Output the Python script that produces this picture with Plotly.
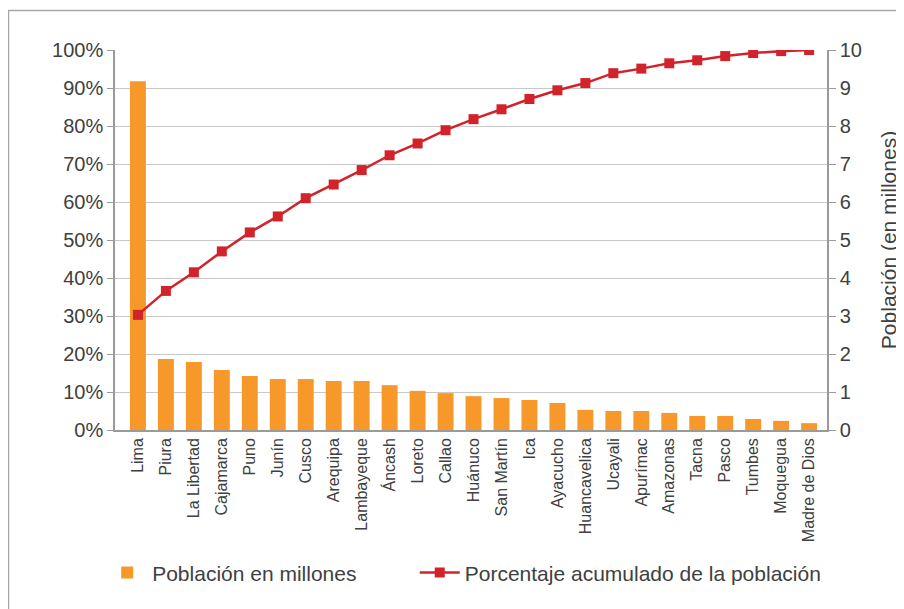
import plotly.graph_objects as go

regiones = ['Lima', 'Piura', 'La Libertad', 'Cajamarca', 'Puno', 'Junín', 'Cusco',
            'Arequipa', 'Lambayeque', 'Áncash', 'Loreto', 'Callao', 'Huánuco',
            'San Martín', 'Ica', 'Ayacucho', 'Huancavelica', 'Ucayali', 'Apurímac',
            'Amazonas', 'Tacna', 'Pasco', 'Tumbes', 'Moquegua', 'Madre de Dios']

poblacion = [9.18, 1.87, 1.79, 1.58, 1.42, 1.34, 1.34, 1.29, 1.29, 1.18, 1.03, 0.97,
             0.89, 0.84, 0.79, 0.71, 0.53, 0.50, 0.50, 0.45, 0.37, 0.37, 0.29, 0.24, 0.18]

acumulado = [0.303, 0.366, 0.415, 0.470, 0.520, 0.562, 0.610, 0.646, 0.684, 0.723,
             0.754, 0.789, 0.818, 0.844, 0.871, 0.894, 0.913, 0.939, 0.951, 0.965,
             0.973, 0.984, 0.992, 0.997, 1.000]

ORANGE = '#F7982A'
RED = '#D2232A'
TXT = '#404040'
AXIS = '#9A9A9A'
GRID = '#C8C8C8'
FONT = 'Liberation Sans, Arial, sans-serif'

fig = go.Figure()

# bars on the primary (right) axis, line on the overlaying (left) axis so it sits on top
fig.add_trace(go.Bar(
    x=regiones, y=poblacion, name='Población en millones',
    marker=dict(color=ORANGE, line=dict(width=0)), width=0.57,
    yaxis='y', legend='legend'
))
fig.add_trace(go.Scatter(
    x=regiones, y=acumulado, name='Porcentaje acumulado de la población',
    mode='lines+markers', line=dict(color=RED, width=2.5),
    marker=dict(symbol='square', size=10, color=RED),
    yaxis='y2', legend='legend2'
))

legend_style = dict(orientation='h', xanchor='left', y=-0.376, yanchor='middle',
                    font=dict(size=21, color=TXT), itemwidth=40)

fig.update_layout(
    width=904, height=609,
    margin=dict(l=107, r=85, t=42, b=187),
    paper_bgcolor='white', plot_bgcolor='white',
    font=dict(family=FONT, color=TXT),
    showlegend=True,
    legend=dict(x=-0.018, **legend_style),
    legend2=dict(x=0.421, **legend_style),
    xaxis=dict(
        range=[-0.82, 24.64], tickangle=-90, tickfont=dict(size=16, color=TXT),
        showline=True, linecolor=AXIS, linewidth=1.5, ticks='', showgrid=False,
    ),
    yaxis=dict(
        side='right', range=[0, 10], dtick=1, tickfont=dict(size=20, color=TXT),
        showline=True, linecolor=AXIS, linewidth=1.5, ticks='outside', ticklen=7,
        tickcolor=AXIS, showgrid=True, gridcolor=GRID, gridwidth=1, zeroline=False,
        title=dict(text='Población (en millones)', font=dict(size=21, color=TXT), standoff=20),
    ),
    yaxis2=dict(
        overlaying='y', side='left', range=[0, 1], dtick=0.1, tickformat='.0%',
        tickfont=dict(size=20, color=TXT), showline=True, linecolor=AXIS, linewidth=1.5,
        ticks='outside', ticklen=6, tickcolor=AXIS, showgrid=False, zeroline=False,
    ),
    shapes=[dict(type='rect', xref='paper', yref='paper', x0=-0.1496, x1=1.3,
                 y0=-0.7, y1=1.104, line=dict(color='#A6A6A6', width=1.5),
                 fillcolor='rgba(0,0,0,0)', layer='below')],
)

fig.write_html('out.html')
